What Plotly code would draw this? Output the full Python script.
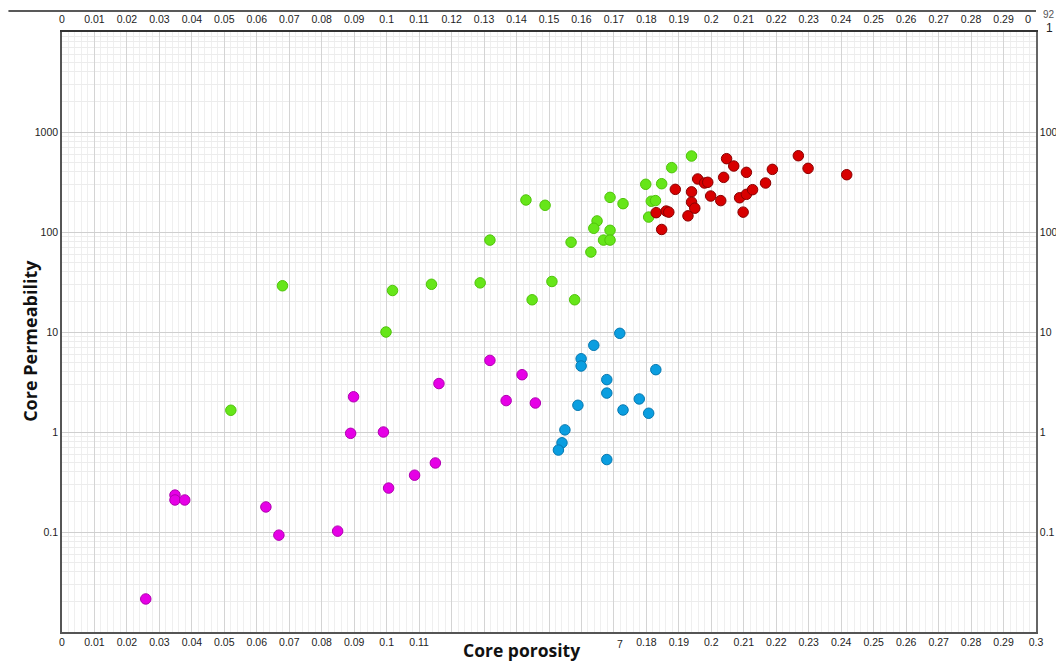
import plotly.graph_objects as go

# ---- data (porosity fraction, permeability) ----
red_x = [0.1847, 0.1830, 0.1861, 0.1869, 0.1889, 0.1928, 0.1939, 0.1939, 0.1949, 0.1958,
         0.1979, 0.1989, 0.1998, 0.2029, 0.2038, 0.2047, 0.2069, 0.2087, 0.2098, 0.2108,
         0.2108, 0.2127, 0.2167, 0.2188, 0.2268, 0.2298, 0.2417]
red_y = [106, 156, 162, 158, 267, 145, 252, 199, 173, 339,
         309, 314, 229, 206, 352, 541, 457, 220, 158, 395,
         238, 265, 309, 423, 579, 433, 374]

green_x = [0.1939, 0.1878, 0.1798, 0.1847, 0.1429, 0.1488, 0.1688, 0.1728, 0.1815, 0.1828,
           0.1807, 0.1648, 0.1638, 0.1688, 0.1318, 0.1568, 0.1668, 0.1688, 0.1629, 0.1138,
           0.1288, 0.1509, 0.1448, 0.1579, 0.0679, 0.1018, 0.0998, 0.0520]
green_y = [575, 440, 300, 304, 209, 185, 222, 192, 203, 206,
           141, 129, 109, 104, 83, 79, 83, 83, 63, 30,
           31, 32, 21, 21, 29, 26, 10, 1.65]

magenta_x = [0.0258, 0.0348, 0.0348, 0.0378, 0.0628, 0.0668, 0.0849, 0.0898, 0.0889, 0.0990,
             0.1006, 0.1086, 0.1150, 0.1161, 0.1318, 0.1368, 0.1417, 0.1458]
magenta_y = [0.0214, 0.234, 0.209, 0.209, 0.178, 0.093, 0.102, 2.25, 0.97, 1.0,
             0.275, 0.37, 0.49, 3.05, 5.2, 2.06, 3.74, 1.95]

blue_x = [0.1718, 0.1638, 0.1599, 0.1599, 0.1829, 0.1678, 0.1678, 0.1778, 0.1589, 0.1728,
          0.1807, 0.1549, 0.1540, 0.1529, 0.1678]
blue_y = [9.7, 7.36, 5.4, 4.57, 4.2, 3.34, 2.45, 2.14, 1.85, 1.66,
          1.54, 1.05, 0.78, 0.66, 0.53]

x_ticks = [round(i * 0.01, 2) for i in range(31)]
x_top_labels = [("0" if v == 0 else f"{v:g}") for v in x_ticks[:-1]] + [""]
x_bottom_labels = [("" if 0.115 < v < 0.175 else ("0" if v == 0 else f"{v:g}")) for v in x_ticks]
y_ticks = [0.1, 1, 10, 100, 1000]
y_left_labels = ["0.1", "1", "10", "100", "1000"]
y_right_labels = ["0.1", "1", "10", "100", "100"]
y_minor = [k * 10 ** e for e in range(-2, 4) for k in range(2, 10)]

FONT = "Liberation Sans, Arial, sans-serif"
TFONT = dict(family=FONT, size=10.5, color="#222")

fig = go.Figure()

def add_series(xs, ys, fill, edge):
    fig.add_trace(go.Scatter(
        x=xs, y=ys, mode="markers", showlegend=False,
        marker=dict(color=fill, size=10.5, line=dict(color=edge, width=1)),
    ))

add_series(green_x, green_y, "#66e619", "#4fc40a")
add_series(red_x, red_y, "#d80000", "#8a0000")
add_series(magenta_x, magenta_y, "#e600e6", "#b000b0")
add_series(blue_x, blue_y, "#0a9ee0", "#0678b0")

# invisible trace to activate secondary axes
fig.add_trace(go.Scatter(x=[0.0], y=[1], xaxis="x2", yaxis="y2",
                         mode="markers", marker=dict(opacity=0), showlegend=False,
                         hoverinfo="skip"))

fig.update_layout(
    width=1056, height=661,
    margin=dict(l=62, r=20, t=32, b=29),
    paper_bgcolor="white", plot_bgcolor="white",
    font=dict(family=FONT, size=10, color="#222"),
    xaxis=dict(
        range=[0, 0.3], tickmode="array", tickvals=x_ticks, ticktext=x_bottom_labels,
        showgrid=True, gridcolor="#d4d4d4", gridwidth=1,
        minor=dict(dtick=0.002, showgrid=True, gridcolor="#efefef"),
        showline=True, linecolor="#555", linewidth=1.5, zeroline=False,
        ticks="", tickfont=TFONT, automargin=False,
    ),
    xaxis2=dict(
        range=[0, 0.3], overlaying="x", side="top", tickmode="array",
        tickvals=x_ticks, ticktext=x_top_labels, showgrid=False,
        showline=True, linecolor="#333", linewidth=1.5, zeroline=False,
        ticks="", tickfont=TFONT, automargin=False, ticklabelstandoff=3,
    ),
    yaxis=dict(
        type="log", range=[-2, 4], tickmode="array", tickvals=y_ticks, ticktext=y_left_labels,
        showgrid=True, gridcolor="#cfcfcf", gridwidth=1,
        minor=dict(tickmode="array", tickvals=y_minor, showgrid=True, gridcolor="#ececec"),
        showline=True, linecolor="#555", linewidth=1.5, zeroline=False,
        ticks="", tickfont=TFONT, automargin=False,
    ),
    yaxis2=dict(
        type="log", range=[-2, 4], overlaying="y", side="right", tickmode="array",
        tickvals=y_ticks, ticktext=y_right_labels, showgrid=False,
        showline=True, linecolor="#666", linewidth=1.5, zeroline=False,
        ticks="", tickfont=TFONT, automargin=False,
    ),
)

# axis titles
fig.add_annotation(x=0.472, y=-0.03, xref="paper", yref="paper", text="<b>Core porosity</b>",
                   showarrow=False, xanchor="center", yanchor="middle",
                   font=dict(family="Open Sans, sans-serif", size=17.5, color="#111"))
fig.add_annotation(x=-0.033, y=0.485, xref="paper", yref="paper", text="<b>Core Permeability</b>",
                   showarrow=False, textangle=-90, xanchor="center", yanchor="middle",
                   font=dict(family="Open Sans, sans-serif", size=18, color="#111"))

# remnant "7" of the overlapped 0.17 bottom label, and top-right fragments
fig.add_annotation(x=0.17, y=0, xref="x", yref="paper", text="7", showarrow=False,
                   xanchor="center", yanchor="middle", xshift=6, yshift=-12, font=TFONT)
fig.add_annotation(x=0.3, y=1, xref="x", yref="paper", text="0", showarrow=False,
                   xanchor="center", yanchor="middle", xshift=-8, yshift=13,
                   font=dict(family=FONT, size=11, color="#222"))
fig.add_annotation(x=1.0, y=1, xref="paper", yref="paper", text="92", showarrow=False,
                   xanchor="center", yanchor="middle", xshift=13, yshift=18,
                   font=dict(family=FONT, size=10, color="#555"))
fig.add_annotation(x=1.0, y=1, xref="paper", yref="paper", text="1", showarrow=False,
                   xanchor="center", yanchor="middle", xshift=13, yshift=4,
                   font=dict(family=FONT, size=12, color="#222"))

# top rule line above the chart
fig.add_shape(type="line", xref="paper", yref="paper", x0=-0.055, x1=1.0, y0=1.035, y1=1.035,
              line=dict(color="#222", width=1.5))

fig.write_html("out.html", config={"displayModeBar": False},
               post_script="document.body.style.margin='0';document.body.style.padding='0';")
